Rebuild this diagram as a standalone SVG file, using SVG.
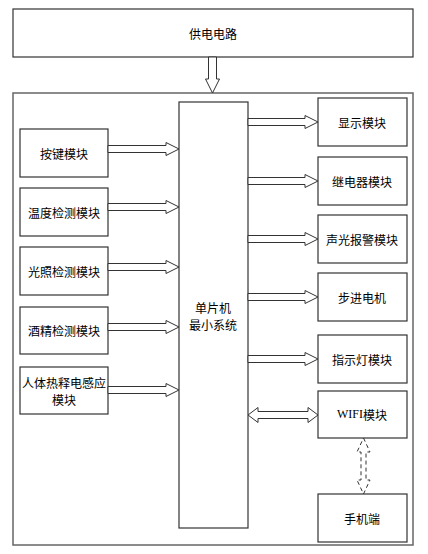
<svg xmlns="http://www.w3.org/2000/svg" width="428" height="554" viewBox="0 0 428 554">
<style>
.box{fill:#fff;stroke:#333;stroke-width:1.2}
.outer{fill:none;stroke:#666;stroke-width:1.5}
.arr{fill:#fff;stroke:#333;stroke-width:1}
.dash{fill:none;stroke:#333;stroke-width:1;stroke-dasharray:4,3}
text{font-family:"Noto Sans CJK SC","Liberation Sans",sans-serif;font-size:12px;fill:#000;text-anchor:middle;dominant-baseline:central}
.serif{font-family:"Liberation Serif",serif}
</style>
<rect width="428" height="554" fill="#fff"/>
<g id="power"><rect class="box" x="13" y="9" width="400" height="48"/><text x="213" y="33">供电电路</text></g>
<rect id="system" class="outer" x="13" y="93" width="400" height="452"/>
<g id="mcu"><rect class="box" x="179" y="102" width="69" height="426"/><text x="213" y="307">单片机</text><text x="213" y="324">最小系统</text></g>
<g id="key"><rect class="box" x="20" y="129" width="88" height="48"/><text x="64" y="153">按键模块</text></g>
<g id="temp"><rect class="box" x="20" y="188" width="88" height="48"/><text x="64" y="212">温度检测模块</text></g>
<g id="light"><rect class="box" x="20" y="247" width="88" height="48"/><text x="64" y="271">光照检测模块</text></g>
<g id="alcohol"><rect class="box" x="20" y="307" width="88" height="47"/><text x="64" y="330">酒精检测模块</text></g>
<g id="pir"><rect class="box" x="20" y="367" width="88" height="47"/><text x="64" y="382">人体热释电感应</text><text x="64" y="399">模块</text></g>
<g id="display"><rect class="box" x="318" y="98" width="89" height="48"/><text x="362" y="122">显示模块</text></g>
<g id="relay"><rect class="box" x="318" y="157" width="89" height="48"/><text x="362" y="181">继电器模块</text></g>
<g id="alarm"><rect class="box" x="318" y="215" width="89" height="48"/><text x="362" y="239">声光报警模块</text></g>
<g id="stepper"><rect class="box" x="318" y="273" width="89" height="48"/><text x="362" y="297">步进电机</text></g>
<g id="indicator"><rect class="box" x="318" y="335" width="89" height="48"/><text x="362" y="359">指示灯模块</text></g>
<g id="wifi"><rect class="box" x="318" y="391" width="89" height="47"/><text x="362" y="414"><tspan class="serif">WIFI</tspan>模块</text></g>
<g id="phone"><rect class="box" x="318" y="494" width="89" height="48"/><text x="362" y="518">手机端</text></g>
<g id="connectors">
<polygon class="arr" points="208.5,57 216.5,57 216.5,79 219.5,79 212.5,93 205.5,79 208.5,79"/>
<polygon class="arr" points="108,145.5 166,145.5 166,142.5 179,149 166,155.5 166,152.5 108,152.5"/>
<polygon class="arr" points="108,203.5 166,203.5 166,200.5 179,207 166,213.5 166,210.5 108,210.5"/>
<polygon class="arr" points="108,263.5 166,263.5 166,260.5 179,267 166,273.5 166,270.5 108,270.5"/>
<polygon class="arr" points="108,323.5 166,323.5 166,320.5 179,327 166,333.5 166,330.5 108,330.5"/>
<polygon class="arr" points="108,386.5 166,386.5 166,383.5 179,390 166,396.5 166,393.5 108,393.5"/>
<polygon class="arr" points="248,118.5 305,118.5 305,115.5 318,122 305,128.5 305,125.5 248,125.5"/>
<polygon class="arr" points="248,177.5 305,177.5 305,174.5 318,181 305,187.5 305,184.5 248,184.5"/>
<polygon class="arr" points="248,235.5 305,235.5 305,232.5 318,239 305,245.5 305,242.5 248,242.5"/>
<polygon class="arr" points="248,293.5 305,293.5 305,290.5 318,297 305,303.5 305,300.5 248,300.5"/>
<polygon class="arr" points="248,355.5 305,355.5 305,352.5 318,359 305,365.5 305,362.5 248,362.5"/>
<polygon class="arr" points="248,415 258,407.5 258,411.5 308,411.5 308,407.5 318,415 308,422.5 308,418.5 258,418.5 258,422.5"/>
<polygon class="dash" points="363.5,438 370,452 366,452 366,480 370,480 363.5,494 357,480 361,480 361,452 357,452"/>
</g>
</svg>
